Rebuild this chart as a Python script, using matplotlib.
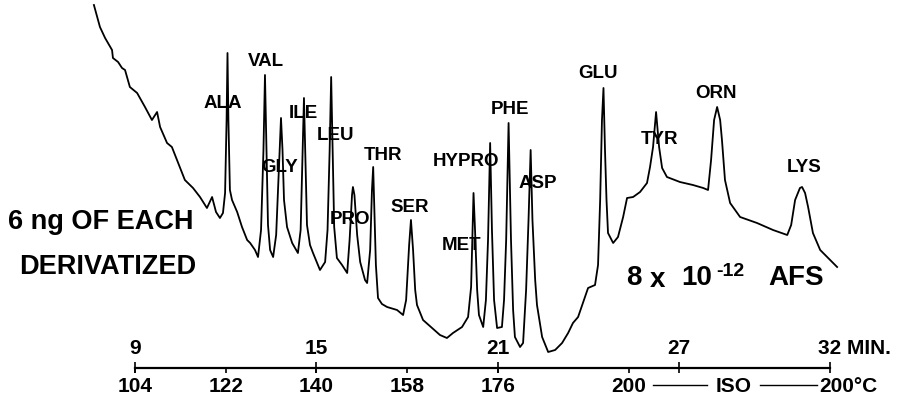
import matplotlib

matplotlib.use("Agg")
import matplotlib.pyplot as plt

plt.rcParams["font.family"] = ["Liberation Sans", "DejaVu Sans"]
plt.rcParams["font.weight"] = "bold"

# chromatogram trace: retention time [min] vs pen deflection above time axis [arb.]
time_min = [
    7.64, 7.84, 8.01, 8.24, 8.27, 8.44, 8.57, 8.67, 8.83, 9.07,
    9.33, 9.56, 9.73, 9.83, 10.06, 10.22, 10.39, 10.65, 10.92, 11.15,
    11.38, 11.55, 11.68, 11.81, 11.91, 11.98, 12.03, 12.06, 12.09, 12.14,
    12.21, 12.38, 12.54, 12.71, 12.81, 12.97, 13.07, 13.17, 13.25, 13.30,
    13.35, 13.40, 13.47, 13.57, 13.67, 13.73, 13.80, 13.83, 13.88, 13.93,
    14.03, 14.20, 14.39, 14.48, 14.54, 14.59, 14.64, 14.69, 14.79, 14.89,
    15.12, 15.29, 15.37, 15.44, 15.49, 15.54, 15.59, 15.68, 15.85, 16.02,
    16.10, 16.18, 16.21, 16.26, 16.35, 16.45, 16.61, 16.68, 16.78, 16.84,
    16.88, 16.91, 16.97, 17.04, 17.17, 17.34, 17.67, 17.87, 17.97, 18.07,
    18.13, 18.20, 18.27, 18.33, 18.53, 18.83, 19.09, 19.32, 19.52, 19.82,
    20.02, 20.12, 20.17, 20.20, 20.25, 20.32, 20.38, 20.52, 20.61, 20.68,
    20.75, 20.81, 20.88, 20.98, 21.14, 21.21, 21.28, 21.36, 21.44, 21.51,
    21.57, 21.74, 21.84, 21.94, 22.02, 22.09, 22.15, 22.24, 22.30, 22.47,
    22.67, 22.90, 23.13, 23.33, 23.49, 23.66, 23.82, 23.99, 24.22, 24.32,
    24.39, 24.45, 24.50, 24.55, 24.60, 24.65, 24.82, 24.98, 25.15, 25.28,
    25.48, 25.71, 25.94, 26.04, 26.14, 26.24, 26.34, 26.44, 26.60, 27.03,
    27.46, 27.80, 27.96, 28.06, 28.16, 28.26, 28.36, 28.42, 28.52, 28.69,
    29.02, 29.58, 30.11, 30.58, 30.71, 30.84, 31.00, 31.07, 31.17, 31.27,
    31.43, 31.67, 32.00, 32.23,
]
response = [
    363, 341, 330, 318, 310, 306, 300, 298, 281, 275,
    261, 248, 256, 241, 225, 221, 208, 188, 180, 171,
    160, 171, 156, 150, 155, 175, 248, 315, 248, 178,
    168, 156, 141, 128, 125, 118, 111, 138, 218, 293,
    218, 143, 118, 111, 133, 178, 228, 250, 218, 168,
    141, 125, 115, 138, 208, 270, 208, 143, 123, 115,
    98, 106, 138, 218, 291, 218, 141, 110, 103, 95,
    128, 173, 181, 173, 133, 106, 88, 85, 118, 178,
    201, 168, 103, 70, 64, 61, 58, 53, 68, 123,
    148, 118, 78, 63, 48, 40, 33, 30, 35, 41,
    51, 81, 138, 175, 138, 78, 53, 41, 68, 128,
    225, 138, 68, 40, 41, 68, 128, 245, 128, 58,
    31, 21, 25, 78, 148, 218, 148, 88, 63, 31,
    16, 18, 25, 35, 45, 51, 65, 80, 83, 103,
    168, 248, 280, 218, 168, 135, 125, 131, 151, 170,
    171, 176, 185, 201, 221, 256, 221, 200, 191, 186,
    183, 180, 178, 208, 248, 261, 248, 228, 188, 165,
    151, 145, 138, 133, 143, 168, 180, 181, 175, 161,
    135, 118, 108, 101,
]

# peak labels
peak_names = ["ALA", "VAL", "GLY", "ILE", "LEU", "PRO", "THR", "SER",
              "HYPRO", "MET", "PHE", "ASP", "GLU", "TYR", "ORN", "LYS"]
peak_label_t = [11.91, 13.33, 13.80, 14.56, 15.65, 16.11, 17.21, 18.10,
                19.95, 19.82, 21.41, 22.34, 24.32, 26.37, 28.23, 31.14]
peak_label_h = [265, 307, 201, 255, 233, 149, 213, 161,
                207, 122, 258, 185, 295, 228, 274, 201]

# time axis (minutes) and oven temperature scale (deg C)
minute_ticks = [9, 15, 21, 27, 32]
minute_labels = ["9", "15", "21", "27", "32"]
temp_ticks_min = [9, 12, 15, 18, 21, 25.35]
temp_labels = ["104", "122", "140", "158", "176", "200"]
iso_segments = [(26.14, 27.93), (29.68, 31.57)]

fig = plt.figure(figsize=(9.03, 4.01), dpi=100)
ax = fig.add_axes([0, 0, 1, 1])
ax.set_xlim(4.533, 34.41)
ax.set_ylim(-33, 368)
ax.axis("off")

ax.plot(time_min, response, color="black", lw=1.3, solid_joinstyle="round")

for name, t, h in zip(peak_names, peak_label_t, peak_label_h):
    ax.text(t, h, name, ha="center", va="center", fontsize=13.5, fontweight="bold")

# time axis line with ticks
ax.plot([minute_ticks[0], minute_ticks[-1]], [0, 0], color="black", lw=1.6)
ax.vlines(minute_ticks, -5, 6, color="black", lw=1.2)
ax.vlines(temp_ticks_min, -5, 0, color="black", lw=1.2)
for t, lab in zip(minute_ticks[:-1], minute_labels[:-1]):
    ax.text(t, 19, lab, ha="center", va="center", fontsize=15, fontweight="bold")
ax.text(minute_ticks[-1] - 0.4, 19, minute_labels[-1] + " MIN.", ha="left", va="center",
        fontsize=15, fontweight="bold")
for t, lab in zip(temp_ticks_min, temp_labels):
    ax.text(t, -19, lab, ha="center", va="center", fontsize=15, fontweight="bold")
for t0, t1 in iso_segments:
    ax.plot([t0, t1], [-17, -17], color="black", lw=1.0)
ax.text(28.8, -19, "ISO", ha="center", va="center", fontsize=15, fontweight="bold")
ax.text(31.63, -19, "200\u00b0C", ha="left", va="center", fontsize=15, fontweight="bold")

# annotations
fig.text(101 / 903, 1 - 222 / 401, "6 ng OF EACH", ha="center", va="center",
         fontsize=19.5, fontweight="bold")
fig.text(108 / 903, 1 - 267 / 401, "DERIVATIZED", ha="center", va="center",
         fontsize=19.5, fontweight="bold")
fig.text(634 / 903, 1 - 278 / 401, "8", ha="center", va="center", fontsize=20, fontweight="bold")
fig.text(658 / 903, 1 - 280 / 401, "x", ha="center", va="center", fontsize=20, fontweight="bold")
fig.text(697 / 903, 1 - 278 / 401, "10", ha="center", va="center", fontsize=20, fontweight="bold")
fig.text(730 / 903, 1 - 271 / 401, "-12", ha="center", va="center", fontsize=14, fontweight="bold")
fig.text(796 / 903, 1 - 278 / 401, "AFS", ha="center", va="center", fontsize=20, fontweight="bold")

fig.savefig("out.png", dpi=100, facecolor="white")
